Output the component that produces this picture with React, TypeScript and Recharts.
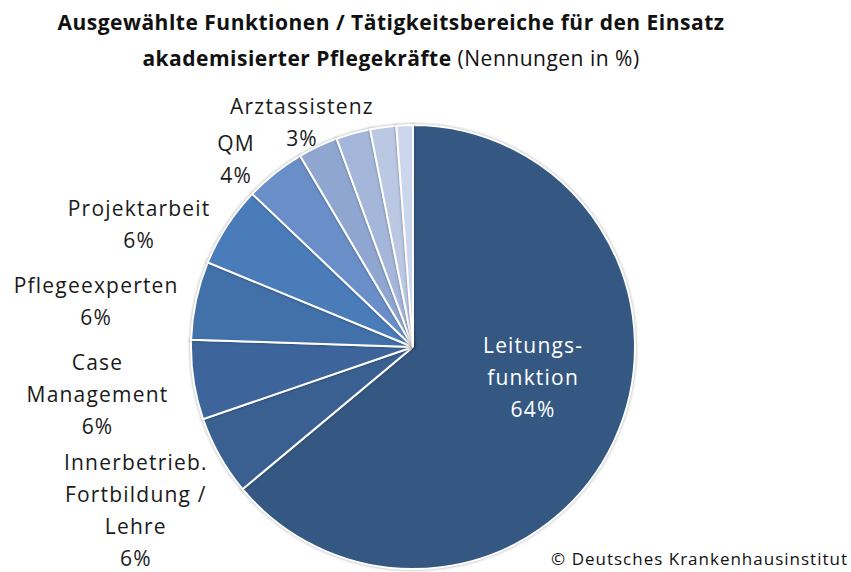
import React from 'react';
import { PieChart, Pie, Cell } from 'recharts';

const categories = [
  'Leitungsfunktion',
  'Innerbetrieb. Fortbildung / Lehre',
  'Case Management',
  'Pflegeexperten',
  'Projektarbeit',
  'QM',
  'Arztassistenz',
  'Weitere A',
  'Weitere B',
  'Weitere C',
];
const values = [64, 5.8, 5.8, 5.7, 5.9, 4.4, 2.9, 2.5, 1.9, 1.2];
const labelLines: string[][] = [
  ['Leitungs-', 'funktion', '64%'],
  ['Innerbetrieb.', 'Fortbildung /', 'Lehre', '6%'],
  ['Case', 'Management', '6%'],
  ['Pflegeexperten', '6%'],
  ['Projektarbeit', '6%'],
  ['QM', '4%'],
  ['Arztassistenz', '3%'],
  [],
  [],
  [],
];
const colors = [
  '#355883',
  '#3A5F91',
  '#3D659B',
  '#4270A9',
  '#4A7CBA',
  '#6A8FC8',
  '#8FA6D0',
  '#A4B6DA',
  '#BAC8E3',
  '#CCD6EC',
];

const data = categories.map((name, i) => ({ name, value: values[i], lines: labelLines[i] }));

// label layout: distance from centre and clockwise angular shift (deg)
const LABEL_LAYOUT = [
  { dist: 124, shift: -10.7 },
  { dist: 322, shift: -1.2 },
  { dist: 319, shift: 0 },
  { dist: 320, shift: -4 },
  { dist: 300, shift: -8.9 },
  { dist: 258, shift: -4.8 },
  { dist: 250, shift: -1 },
  { dist: 0, shift: 0 },
  { dist: 0, shift: 0 },
  { dist: 0, shift: 0 },
];

const RAD = Math.PI / 180;
const LH = 32;

const renderLabel = (props: any) => {
  const { cx, cy, midAngle, index } = props;
  const lines = labelLines[index];
  if (!lines || lines.length === 0) return null;
  const lay = LABEL_LAYOUT[index];
  const ang = midAngle - lay.shift;
  const x = cx + Math.cos(-ang * RAD) * lay.dist;
  const y = cy + Math.sin(-ang * RAD) * lay.dist;
  const inside = index === 0;
  const n = lines.length;
  return (
    <text
      key={`lbl-${index}`}
      x={x}
      y={y}
      textAnchor="middle"
      fill={inside ? '#FFFFFF' : '#1A1A1A'}
      style={{ fontFamily: '"Open Sans", sans-serif', fontSize: 21, letterSpacing: 1.2 }}
    >
      {lines.map((ln, i) => (
        <tspan key={i} x={x} y={y - ((n - 1) * LH) / 2 + i * LH} dy="0.35em">
          {ln}
        </tspan>
      ))}
    </text>
  );
};

export default function App() {
  return (
    <div style={{ position: 'absolute', left: 0, top: 0, width: 851, height: 572, background: '#FFFFFF' }}>
      <div
        style={{
          position: 'absolute',
          left: 0,
          top: 4,
          width: 782,
          textAlign: 'center',
          fontFamily: '"Open Sans", sans-serif',
          fontSize: 21,
          letterSpacing: 0.5,
          lineHeight: '36px',
          color: '#111111',
        }}
      >
        <div style={{ fontWeight: 700 }}>Ausgewählte Funktionen / Tätigkeitsbereiche für den Einsatz</div>
        <div>
          <span style={{ fontWeight: 700 }}>akademisierter Pflegekräfte</span>{' '}
          <span style={{ fontWeight: 400 }}>(Nennungen in %)</span>
        </div>
      </div>
      <div style={{ position: 'absolute', left: 0, top: 0 }}>
        <PieChart width={851} height={572} margin={{ top: 0, right: 0, bottom: 0, left: 0 }}>
          <Pie
            data={data}
            dataKey="value"
            nameKey="name"
            cx={413}
            cy={347}
            outerRadius={222}
            startAngle={90}
            endAngle={-270}
            stroke="#FFFFFF"
            strokeWidth={2}
            label={renderLabel}
            labelLine={false}
            isAnimationActive={false}
            style={{ filter: 'drop-shadow(0px 0px 1.5px rgba(0,0,0,0.35))' }}
          >
            {data.map((d, i) => (
              <Cell key={d.name} fill={colors[i]} />
            ))}
          </Pie>
        </PieChart>
      </div>
      <div
        style={{
          position: 'absolute',
          right: 3,
          top: 547,
          fontFamily: '"Open Sans", sans-serif',
          fontSize: 17,
          letterSpacing: 1,
          lineHeight: '24px',
          color: '#111111',
          whiteSpace: 'nowrap',
        }}
      >
        © Deutsches Krankenhausinstitut
      </div>
    </div>
  );
}
